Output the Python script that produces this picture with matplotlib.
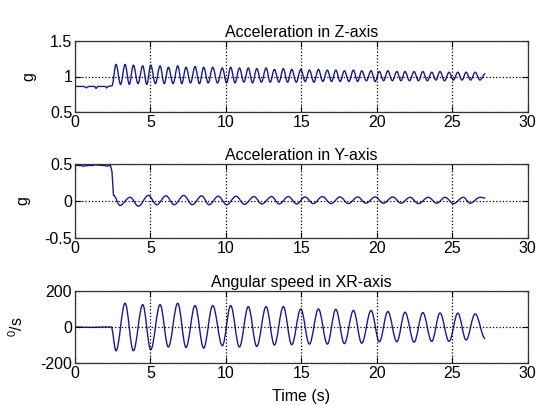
import matplotlib
matplotlib.use('Agg')
import matplotlib.pyplot as plt
from matplotlib.path import Path
from matplotlib.patches import PathPatch

plt.rcParams['font.family'] = ['Liberation Sans', 'DejaVu Sans']
plt.rcParams['mathtext.fontset'] = 'custom'
plt.rcParams['mathtext.rm'] = 'Liberation Sans'
plt.rcParams['font.size'] = 11.5

# acceleration in Z (g): flat start, then alternating peaks / troughs
z_start_t = [0, 0.6, 0.75, 0.9, 1.3, 1.4, 1.5, 2.0, 2.1, 2.2, 2.45]
z_start_v = [0.86, 0.86, 0.84, 0.86, 0.86, 0.83, 0.86, 0.86, 0.84, 0.86, 0.87]
z_peak_t = [2.72, 3.32, 3.87, 4.49, 5.02, 5.64, 6.19, 6.81, 7.36, 7.96, 8.53,
            9.13, 9.77, 10.32, 10.9, 11.49, 12.05, 12.67, 13.22, 13.81, 14.37,
            14.97, 15.54, 16.14, 16.73, 17.29, 17.86, 18.46, 19.01, 19.63, 20.18,
            20.74, 21.34, 21.88, 22.48, 23.06, 23.65, 24.2, 24.8, 25.38, 25.93, 26.53]
z_peak_v = [1.17, 1.17, 1.16, 1.15, 1.16, 1.15, 1.13, 1.15, 1.13, 1.14, 1.13,
            1.13, 1.12, 1.13, 1.12, 1.12, 1.11, 1.12, 1.10, 1.11, 1.10,
            1.10, 1.09, 1.10, 1.09, 1.09, 1.08, 1.09, 1.08, 1.08, 1.07,
            1.08, 1.07, 1.07, 1.07, 1.07, 1.06, 1.07, 1.06, 1.06, 1.06, 1.06]
z_trough_t = [3.02, 3.6, 4.18, 4.76, 5.33, 5.92, 6.5, 7.08, 7.66, 8.25, 8.83,
              9.45, 10.05, 10.61, 11.2, 11.77, 12.36, 12.94, 13.52, 14.09, 14.67,
              15.26, 15.84, 16.43, 17.01, 17.58, 18.16, 18.74, 19.32, 19.9, 20.46,
              21.04, 21.61, 22.18, 22.77, 23.36, 23.93, 24.5, 25.09, 25.66, 26.23, 26.85]
z_trough_v = [0.89, 0.89, 0.90, 0.89, 0.90, 0.90, 0.90, 0.90, 0.91, 0.90, 0.91,
              0.91, 0.91, 0.91, 0.92, 0.91, 0.92, 0.92, 0.92, 0.92, 0.92,
              0.93, 0.92, 0.93, 0.93, 0.93, 0.93, 0.93, 0.94, 0.93, 0.94,
              0.94, 0.94, 0.94, 0.94, 0.94, 0.95, 0.94, 0.95, 0.95, 0.95, 0.95]
z_end_t = [27.2]
z_end_v = [1.04]

# acceleration in Y (g)
y_time = [0, 0.4, 0.5, 0.9, 1.2, 1.3, 1.8, 2.0, 2.1, 2.35, 2.45, 2.55,
          2.98, 3.65, 4.2, 4.86, 5.42, 6.03, 6.58, 7.21, 7.78, 8.4, 8.89,
          9.5, 10.06, 10.68, 11.23, 11.87, 12.38, 13.04, 13.53, 14.15, 14.7,
          15.25, 15.8, 16.4, 16.98, 17.57, 18.12, 18.75, 19.28, 19.9, 20.45,
          21.07, 21.62, 22.21, 22.77, 23.43, 23.98, 24.54, 25.09, 25.75, 26.19,
          26.86, 27.2]
y_val = [0.48, 0.48, 0.47, 0.48, 0.48, 0.49, 0.48, 0.48, 0.47, 0.48, 0.40, 0.08,
         -0.06, 0.05, -0.07, 0.075, -0.05, 0.07, -0.05, 0.075, -0.05, 0.07, -0.05,
         0.065, -0.05, 0.065, -0.045, 0.06, -0.04, 0.06, -0.04, 0.06, -0.04,
         0.055, -0.035, 0.06, -0.035, 0.055, -0.035, 0.055, -0.03, 0.055, -0.03,
         0.055, -0.03, 0.05, -0.035, 0.05, -0.03, 0.05, -0.035, 0.05, -0.03,
         0.05, 0.04]

# angular speed (deg/s)
w_time = [0, 1.0, 2.0, 2.4, 2.72, 3.32, 3.87, 4.49, 5.02, 5.64, 6.19, 6.81,
          7.36, 7.96, 8.53, 9.13, 9.77, 10.32, 10.9, 11.49, 12.05, 12.67,
          13.22, 13.81, 14.37, 14.97, 15.54, 16.14, 16.73, 17.29, 17.86, 18.46,
          19.01, 19.63, 20.18, 20.74, 21.34, 21.88, 22.48, 23.06, 23.65, 24.2,
          24.8, 25.38, 25.93, 26.53, 27.2]
w_val = [0, -2, 0, 0, -132, 132, -132, 124, -126, 124, -111, 132,
         -113, 119, -117, 119, -104, 119, -111, 113, -108, 113,
         -100, 113, -98, 100, -95, 100, -95, 98, -92, 92,
         -90, 92, -82, 86, -82, 82, -84, 80, -80, 78,
         -80, 77, -72, 73, -65]

z_time = list(z_start_t)
z_val = list(z_start_v)
for pt, pv, tt, tv in zip(z_peak_t, z_peak_v, z_trough_t, z_trough_v):
    z_time += [pt, tt]
    z_val += [pv, tv]
z_time += z_end_t
z_val += z_end_v


def wave(ax, t, v, n_flat, color):
    # straight segments for the flat start, smooth curves between the extrema
    verts = [(t[0], v[0])]
    codes = [Path.MOVETO]
    for i in range(1, len(t)):
        if i < n_flat:
            verts.append((t[i], v[i]))
            codes.append(Path.LINETO)
        else:
            h = 0.36 * (t[i] - t[i - 1])
            verts += [(t[i - 1] + h, v[i - 1]), (t[i] - h, v[i]), (t[i], v[i])]
            codes += [Path.CURVE4] * 3
    ax.add_patch(PathPatch(Path(verts, codes), fill=False, edgecolor=color, lw=1.0))


line_col = '#1a1a8e'
fig = plt.figure(figsize=(5.37, 4.05), dpi=100)
W, H = 537, 405
boxes = [(41, 112), (164, 238), (291, 363)]
panels = [
    (z_time, z_val, len(z_start_t), 'Acceleration in Z-axis', 'g', (0.5, 1.5), [0.5, 1, 1.5], ['0.5', '1', '1.5']),
    (y_time, y_val, 12, 'Acceleration in Y-axis', 'g', (-0.5, 0.5), [-0.5, 0, 0.5], ['-0.5', '0', '0.5']),
    (w_time, w_val, 4, 'Angular speed in XR-axis', r'$^{0}$/s', (-200, 200), [-200, 0, 200], ['-200', '0', '200']),
]

axes = []
for (top, bot), (t, v, nf, title, ylab, ylim, yt, ytl) in zip(boxes, panels):
    ax = fig.add_axes([75 / W, 1 - bot / H, (527.5 - 75) / W, (bot - top) / H])
    wave(ax, t, v, nf, line_col)
    ax.set_xlim(0, 30)
    ax.set_ylim(*ylim)
    ax.set_xticks([0, 5, 10, 15, 20, 25, 30])
    ax.set_yticks(yt)
    ax.set_yticklabels(ytl)
    ax.grid(True, linestyle=':', color='black', lw=0.9)
    ax.set_title(title, fontsize=11.5, pad=3)
    ax.set_ylabel(ylab, labelpad=10)
    ax.tick_params(direction='in', length=4, top=True, right=True, pad=2, width=0.8)
    for s in ax.spines.values():
        s.set_color('#333333')
        s.set_linewidth(0.9)
    axes.append(ax)

axes[2].set_xlabel('Time (s)', labelpad=6)

fig.savefig('out.png', dpi=100)
